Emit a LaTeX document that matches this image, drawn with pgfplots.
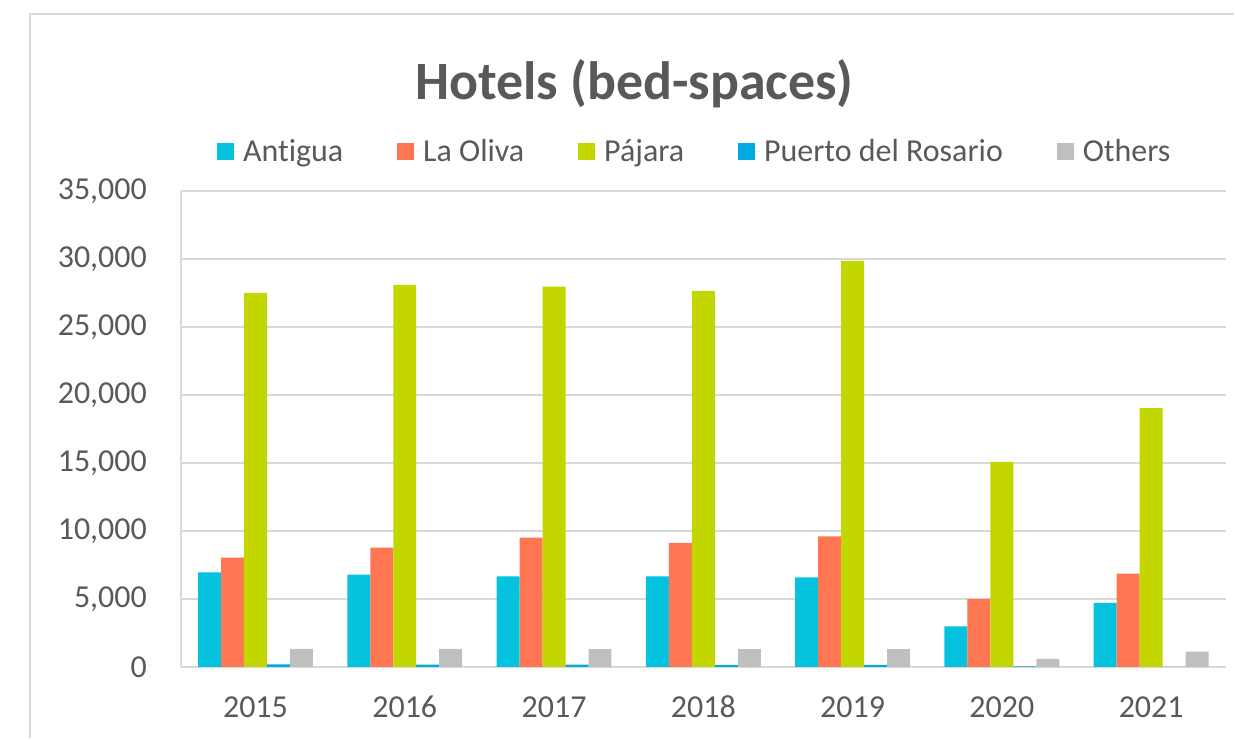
\documentclass[border=0pt]{standalone}
\usepackage{pgfplots}
\pgfplotsset{compat=1.18}
\usepackage{fontspec}
\setmainfont{Carlito}[Ligatures={TeX,NoCommon}]
\definecolor{txt}{HTML}{595959}
\definecolor{gridc}{HTML}{D9D9D9}
\definecolor{cAnt}{HTML}{05C3DE}
\definecolor{cOli}{HTML}{FF7752}
\definecolor{cPaj}{HTML}{C4D600}
\definecolor{cPue}{HTML}{00A9E0}
\definecolor{cOth}{HTML}{BFBFBF}
\begin{document}
\begin{tikzpicture}
% canvas 1235x739 px at 0.5pt per px
\path (0pt,0pt) rectangle (617.5pt,369.5pt);
\draw[gridc, line width=1.2pt] (15pt,0pt) -- (15pt,362.5pt) -- (617.5pt,362.5pt);
\node[font=\fontsize{27}{32}\selectfont\bfseries, text=txt] at (317.5pt,327.5pt) {Hotels (bed-spaces)};
\begin{axis}[
  at={(90.5pt,35.75pt)}, anchor=south west,
  scale only axis, width=523pt, height=238.25pt,
  ybar=0pt, bar width=11.5pt,
  xmin=-0.5, xmax=6.5, ymin=0, ymax=35000,
  xtick={0,...,6}, xticklabels={2015,2016,2017,2018,2019,2020,2021},
  ytick={0,5000,...,35000},
  ymajorgrids, grid style={gridc, line width=0.8pt},
  axis lines*=left, axis line style={gridc, line width=0.8pt, -},
  major tick length=0pt,
  /pgf/number format/assume math mode=true,
  /pgf/number format/1000 sep={,},
  scaled y ticks=false,
  tick label style={font=\fontsize{16}{19}\selectfont, text=txt},
  xticklabel style={anchor=base, yshift=-25.25pt},
  yticklabel style={xshift=-13.5pt},
  legend style={at={(0.4928,1)}, anchor=center, yshift=19.5pt, draw=none,
    font=\fontsize{16}{19}\selectfont, text=txt, legend columns=5,
    /tikz/every even column/.append style={column sep=25pt}},
  legend image code/.code={\fill[#1] (0pt,-4.25pt) rectangle (8.5pt,4.25pt);\path (0pt,0pt) -- (11pt,0pt);},
]
\addplot[fill=cAnt, draw=none] coordinates {(0,6950) (1,6780) (2,6660) (3,6650) (4,6580) (5,2970) (6,4710)};
\addplot[fill=cOli, draw=none] coordinates {(0,8040) (1,8770) (2,9510) (3,9120) (4,9590) (5,5000) (6,6860)};
\addplot[fill=cPaj, draw=none] coordinates {(0,27500) (1,28080) (2,27960) (3,27640) (4,29850) (5,15070) (6,19030)};
\addplot[fill=cPue, draw=none] coordinates {(0,180) (1,170) (2,160) (3,140) (4,150) (5,30) (6,0)};
\addplot[fill=cOth, draw=none] coordinates {(0,1320) (1,1320) (2,1300) (3,1310) (4,1310) (5,590) (6,1120)};
\legend{Antigua, La Oliva, Pájara, Puerto del Rosario, Others}
\end{axis}
\end{tikzpicture}
\end{document}
